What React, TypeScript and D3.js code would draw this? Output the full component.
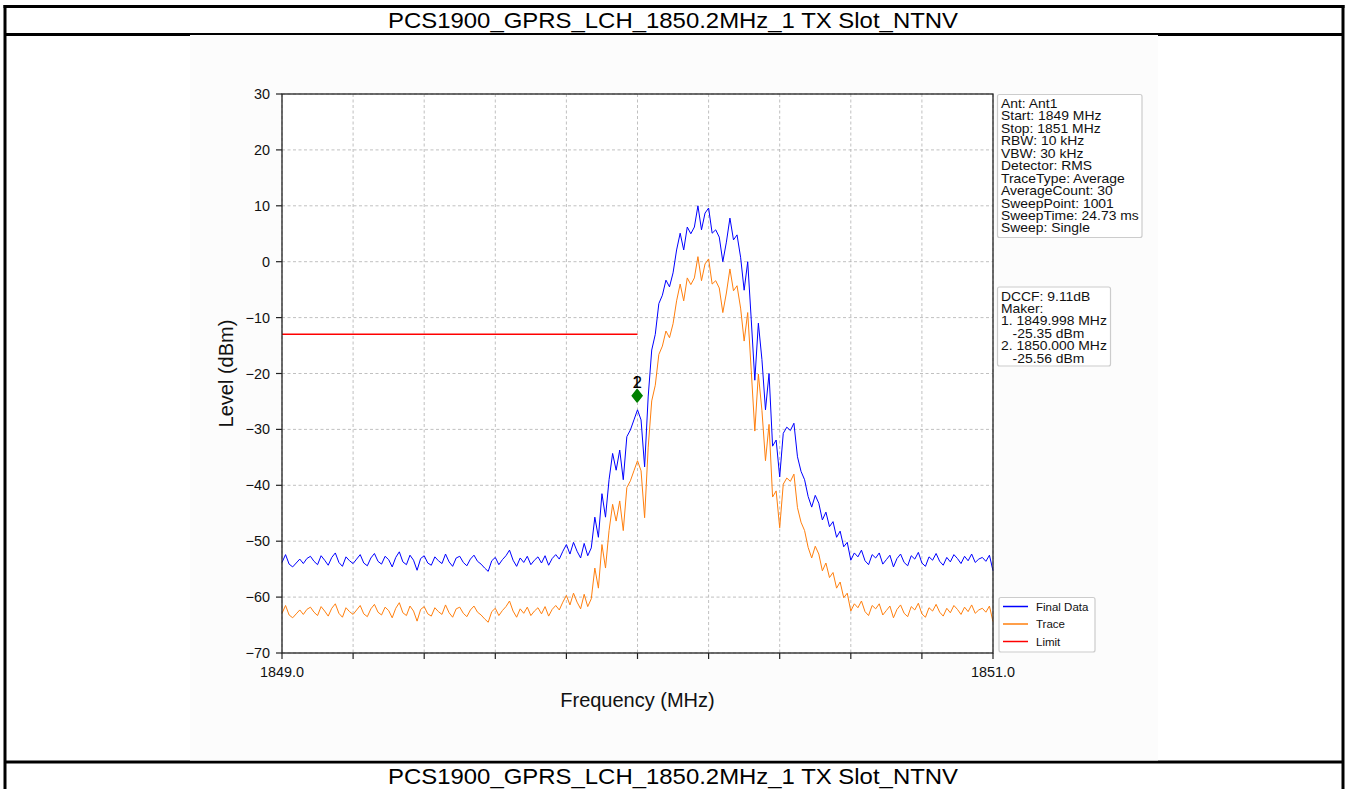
import React, { useEffect, useRef } from "react";
import * as d3 from "d3";

// ---------- data ----------
const TITLE = "PCS1900_GPRS_LCH_1850.2MHz_1 TX Slot_NTNV";
const START_MHZ = 1849.0;
const STOP_MHZ = 1851.0;
const STEP_MHZ = 0.01;

const finalData: number[] = [
  -53.8, -52.4, -54.1, -54.6, -53.9, -53.2, -54.0, -53.1, -52.7, -53.6,
  -54.2, -52.6, -53.4, -54.3, -52.9, -52.1, -53.8, -54.5, -52.8, -53.5,
  -54.0, -53.2, -52.4, -53.9, -54.4, -53.0, -52.2, -53.6, -54.1, -52.7,
  -53.3, -54.6, -52.9, -51.9, -53.7, -54.2, -52.5, -53.4, -55.2, -53.1,
  -52.6, -53.9, -54.3, -52.8, -53.5, -54.0, -52.3, -53.7, -54.5, -53.0,
  -52.7, -53.8, -54.4, -53.2, -52.5, -53.6, -54.1, -54.8, -55.4, -53.5,
  -52.9, -54.2, -53.3, -52.6, -51.6, -53.4, -54.5, -53.0, -53.8, -52.7,
  -54.2, -53.4, -52.8, -53.9, -52.6, -54.3, -53.1, -52.4, -53.2, -51.8,
  -50.6, -52.3, -50.2, -51.8, -53.0, -50.4, -52.6, -51.2, -45.7, -49.3,
  -41.5, -45.7, -39.0, -34.3, -37.3, -33.7, -39.0, -31.3, -30.1, -28.3,
  -26.5, -28.3, -36.7, -24.2, -15.8, -13.0, -7.5, -6.0, -3.3, -4.5,
  -2.0, 2.1, 5.1, 2.1, 6.2, 5.0, 6.2, 10.0, 5.7, 8.7,
  9.6, 5.1, 5.7, 4.4, 0.0, 3.5, 7.8, 3.9, 4.8, 0.8,
  -5.1, 0.0, -10.4, -21.2, -11.0, -17.5, -26.5, -20.0, -33.0, -31.9,
  -38.5, -30.7, -29.6, -30.2, -28.9, -34.9, -37.5, -39.0, -42.0, -43.9,
  -41.8, -43.2, -46.2, -44.8, -47.4, -46.5, -49.3, -48.2, -51.0, -50.2,
  -53.4,
  -52.1, -52.8, -51.6, -53.5, -54.2, -52.4, -53.0, -52.1, -54.1, -53.3,
  -52.5, -54.6, -53.1, -52.3, -53.8, -54.4, -52.6, -53.2, -52.0, -53.9,
  -54.5, -52.8, -53.4, -52.2, -53.6, -54.3, -52.9, -53.7, -52.4, -53.1,
  -54.0, -52.7, -53.5, -52.3, -53.8, -53.2, -52.9, -53.6, -52.5, -55.3,
];

const traceData: number[] = [
  -62.9, -61.5, -63.2, -63.7, -63.0, -62.3, -63.1, -62.2, -61.8, -62.7,
  -63.3, -61.7, -62.5, -63.4, -62.0, -61.2, -62.9, -63.6, -61.9, -62.6,
  -63.1, -62.3, -61.5, -63.0, -63.5, -62.1, -61.3, -62.7, -63.2, -61.8,
  -62.4, -63.7, -62.0, -61.0, -62.8, -63.3, -61.6, -62.5, -64.3, -62.2,
  -61.7, -63.0, -63.4, -61.9, -62.6, -63.1, -61.4, -62.8, -63.6, -62.1,
  -61.8, -62.9, -63.5, -62.3, -61.6, -62.7, -63.2, -63.9, -64.5, -62.6,
  -62.0, -63.3, -62.4, -61.7, -60.7, -62.5, -63.6, -62.1, -62.9, -61.8,
  -63.3, -62.5, -61.9, -63.0, -61.7, -63.4, -62.2, -61.5, -62.3, -60.9,
  -59.7, -61.4, -59.3, -60.9, -62.1, -59.5, -61.7, -60.3, -54.8, -58.4,
  -50.6, -54.8, -48.1, -43.4, -46.4, -42.8, -48.1, -40.4, -39.2, -37.4,
  -35.6, -37.4, -45.8, -33.3, -24.9, -22.1, -16.6, -15.1, -12.4, -13.6,
  -11.1, -7.0, -4.0, -7.0, -2.9, -4.1, -2.9, 0.9, -3.4, -0.4,
  0.5, -4.0, -3.4, -4.7, -9.1, -5.6, -1.3, -5.2, -4.3, -8.3,
  -14.2, -9.1, -19.5, -30.3, -20.1, -26.6, -35.6, -29.1, -42.1, -41.0,
  -47.6, -39.8, -38.7, -39.3, -38.0, -44.0, -46.6, -48.1, -51.1, -53.0,
  -50.9, -52.3, -55.3, -53.9, -56.5, -55.6, -58.4, -57.3, -60.1, -59.3,
  -62.5,
  -61.2, -61.9, -60.7, -62.6, -63.3, -61.5, -62.1, -61.2, -63.2, -62.4,
  -61.6, -63.7, -62.2, -61.4, -62.9, -63.5, -61.7, -62.3, -61.1, -63.0,
  -63.6, -61.9, -62.5, -61.3, -62.7, -63.4, -62.0, -62.8, -61.5, -62.2,
  -63.1, -61.8, -62.6, -61.4, -62.9, -62.3, -62.0, -62.7, -61.6, -64.4,
];

const limitFreq: number[] = [1849.0, 1850.0];
const limitLevel: number[] = [-13, -13];

const markerFreq: number[] = [1849.998, 1850.0];
const markerLevel: number[] = [-24.0, -24.0];
const markerLabels: string[] = ["1", "2"];

const yTicks: number[] = [30, 20, 10, 0, -10, -20, -30, -40, -50, -60, -70];
const xTicks: number[] = [1849.0, 1849.2, 1849.4, 1849.6, 1849.8, 1850.0, 1850.2, 1850.4, 1850.6, 1850.8, 1851.0];
const xTickLabels: string[] = ["1849.0", "", "", "", "", "", "", "", "", "", "1851.0"];

const infoLines: string[] = [
  "Ant: Ant1",
  "Start: 1849 MHz",
  "Stop: 1851 MHz",
  "RBW: 10 kHz",
  "VBW: 30 kHz",
  "Detector: RMS",
  "TraceType: Average",
  "AverageCount: 30",
  "SweepPoint: 1001",
  "SweepTime: 24.73 ms",
  "Sweep: Single",
];
const markerLines: string[] = [
  "DCCF: 9.11dB",
  "Maker:",
  "1. 1849.998 MHz",
  "   -25.35 dBm",
  "2. 1850.000 MHz",
  "   -25.56 dBm",
];
const legendNames: string[] = ["Final Data", "Trace", "Limit"];
const legendColors: string[] = ["#0000ff", "#ff7f0e", "#ff0000"];

// ---------- layout ----------
const W = 1345;
const H = 789;
const FONT = "'Liberation Sans', Arial, Helvetica, sans-serif";
const PL = 282, PR = 993, PT = 94, PB = 653;

export default function App() {
  const ref = useRef<SVGSVGElement | null>(null);

  useEffect(() => {
    document.body.style.margin = "0";
    const svg = d3.select(ref.current);
    svg.selectAll("*").remove();

    const freqs = d3.range(finalData.length).map((i) => START_MHZ + i * STEP_MHZ);

    const x = d3.scaleLinear().domain([START_MHZ, STOP_MHZ]).range([PL, PR]);
    const y = d3.scaleLinear().domain([-70, 30]).range([PB, PT]);

    svg.append("rect").attr("x", 0).attr("y", 0).attr("width", W).attr("height", H).attr("fill", "#ffffff");

    svg.append("line").attr("x1", 5).attr("x2", 1343).attr("y1", 34.5).attr("y2", 34.5)
      .attr("stroke", "#000").attr("stroke-width", 3);
    svg.append("line").attr("x1", 5).attr("x2", 1343).attr("y1", 762).attr("y2", 762)
      .attr("stroke", "#000").attr("stroke-width", 3);

    svg.append("rect").attr("x", 190).attr("y", 35).attr("width", 968).attr("height", 725.5)
      .attr("fill", "#fcfcfc");

    svg.append("line").attr("x1", 5).attr("x2", 5).attr("y1", 5).attr("y2", H)
      .attr("stroke", "#000").attr("stroke-width", 3);
    svg.append("line").attr("x1", 1343).attr("x2", 1343).attr("y1", 5).attr("y2", H)
      .attr("stroke", "#000").attr("stroke-width", 3);
    svg.append("line").attr("x1", 3.5).attr("x2", 1344.5).attr("y1", 6.5).attr("y2", 6.5)
      .attr("stroke", "#000").attr("stroke-width", 3);

    [28, 784].forEach((by) => {
      svg.append("text").attr("x", 673).attr("y", by).attr("text-anchor", "middle")
        .attr("font-family", FONT).attr("font-size", 22).attr("fill", "#000")
        .attr("textLength", 570).attr("lengthAdjust", "spacingAndGlyphs")
        .text(TITLE);
    });

    svg.append("rect").attr("x", PL).attr("y", PT).attr("width", PR - PL).attr("height", PB - PT).attr("fill", "#ffffff");

    const grid = svg.append("g");
    xTicks.forEach((t) => {
      grid.append("line").attr("x1", x(t)).attr("x2", x(t)).attr("y1", PT).attr("y2", PB)
        .attr("stroke", "#b0b0b0").attr("stroke-width", 0.8).attr("stroke-dasharray", "3,2.5");
    });
    yTicks.forEach((t) => {
      grid.append("line").attr("x1", PL).attr("x2", PR).attr("y1", y(t)).attr("y2", y(t))
        .attr("stroke", "#b0b0b0").attr("stroke-width", 0.8).attr("stroke-dasharray", "3,2.5");
    });

    const line = d3.line<number>().x((_, i) => x(freqs[i])).y((d) => y(d));

    svg.append("path").datum(finalData).attr("d", line).attr("fill", "none")
      .attr("stroke", "#0000ff").attr("stroke-width", 1);
    svg.append("path").datum(traceData).attr("d", line).attr("fill", "none")
      .attr("stroke", "#ff7f0e").attr("stroke-width", 1);

    const limLine = d3.line<number>().x((_, i) => x(limitFreq[i])).y((d) => y(d));
    svg.append("path").datum(limitLevel).attr("d", limLine).attr("fill", "none")
      .attr("stroke", "#ff0000").attr("stroke-width", 1.5);

    markerFreq.forEach((f, i) => {
      const cx = x(f), cy = y(markerLevel[i]);
      svg.append("path")
        .attr("d", `M${cx},${cy - 7} L${cx + 5.5},${cy} L${cx},${cy + 7} L${cx - 5.5},${cy} Z`)
        .attr("fill", "#008000");
    });
    // overlapping marker labels drawn as one text element (labels stacked at same spot)
    const mlab = svg.append("text").attr("font-family", FONT).attr("font-size", 16)
      .attr("fill", "#000").attr("text-anchor", "middle");
    markerFreq.forEach((f, i) => {
      mlab.append("tspan").attr("x", x(f)).attr("y", y(markerLevel[i]) - 8).text(markerLabels[i]);
    });

    svg.append("rect").attr("x", PL).attr("y", PT).attr("width", PR - PL).attr("height", PB - PT)
      .attr("fill", "none").attr("stroke", "#222").attr("stroke-width", 1.3);

    yTicks.forEach((t) => {
      svg.append("line").attr("x1", PL - 6).attr("x2", PL).attr("y1", y(t)).attr("y2", y(t))
        .attr("stroke", "#222").attr("stroke-width", 1.2);
      svg.append("text").attr("x", PL - 12).attr("y", y(t) + 5).attr("text-anchor", "end")
        .attr("font-family", FONT).attr("font-size", 14.4).attr("fill", "#111")
        .text(t < 0 ? "\u2212" + Math.abs(t) : String(t));
    });
    xTicks.forEach((t, i) => {
      svg.append("line").attr("x1", x(t)).attr("x2", x(t)).attr("y1", PB).attr("y2", PB + 6)
        .attr("stroke", "#222").attr("stroke-width", 1.2);
      if (xTickLabels[i]) {
        svg.append("text").attr("x", x(t)).attr("y", PB + 24).attr("text-anchor", "middle")
          .attr("font-family", FONT).attr("font-size", 14.4).attr("fill", "#111")
          .text(xTickLabels[i]);
      }
    });

    svg.append("text").attr("x", (PL + PR) / 2).attr("y", 707).attr("text-anchor", "middle")
      .attr("font-family", FONT).attr("font-size", 20).attr("fill", "#111")
      .text("Frequency (MHz)");
    svg.append("text").attr("transform", `translate(233,${(PT + PB) / 2}) rotate(-90)`)
      .attr("text-anchor", "middle").attr("font-family", FONT).attr("font-size", 20).attr("fill", "#111")
      .text("Level (dBm)");

    const box = (bx: number, by: number, bw: number, bh: number, lines: string[]) => {
      svg.append("rect").attr("x", bx).attr("y", by).attr("width", bw).attr("height", bh)
        .attr("rx", 2).attr("fill", "#ffffff").attr("stroke", "#cccccc").attr("stroke-width", 1.2);
      const t = svg.append("text")
        .attr("transform", `translate(${bx + 3.5},${by + 13.5}) scale(1.07,1)`)
        .attr("font-family", FONT).attr("font-size", 13).attr("fill", "#111")
        .attr("xml:space", "preserve").style("white-space", "pre");
      lines.forEach((l, i) => {
        t.append("tspan").attr("x", 0).attr("y", i * 12.45).text(l);
      });
    };
    box(997.5, 94.5, 144.5, 143, infoLines);
    box(997.5, 287, 113, 79, markerLines);

    svg.append("rect").attr("x", 999).attr("y", 597.5).attr("width", 96).attr("height", 54.5)
      .attr("rx", 2).attr("fill", "#ffffff").attr("stroke", "#cccccc").attr("stroke-width", 1.2);
    legendNames.forEach((n, i) => {
      const ly = 606.5 + i * 17.5;
      svg.append("line").attr("x1", 1003).attr("x2", 1028).attr("y1", ly).attr("y2", ly)
        .attr("stroke", legendColors[i]).attr("stroke-width", 1.5);
      svg.append("text").attr("x", 1036).attr("y", ly + 4).attr("font-family", FONT)
        .attr("font-size", 11.5).attr("fill", "#111").text(n);
    });
  }, []);

  return (
    <svg
      ref={ref}
      width={W}
      height={H}
      style={{ position: "absolute", left: 0, top: 0, display: "block" }}
    />
  );
}
